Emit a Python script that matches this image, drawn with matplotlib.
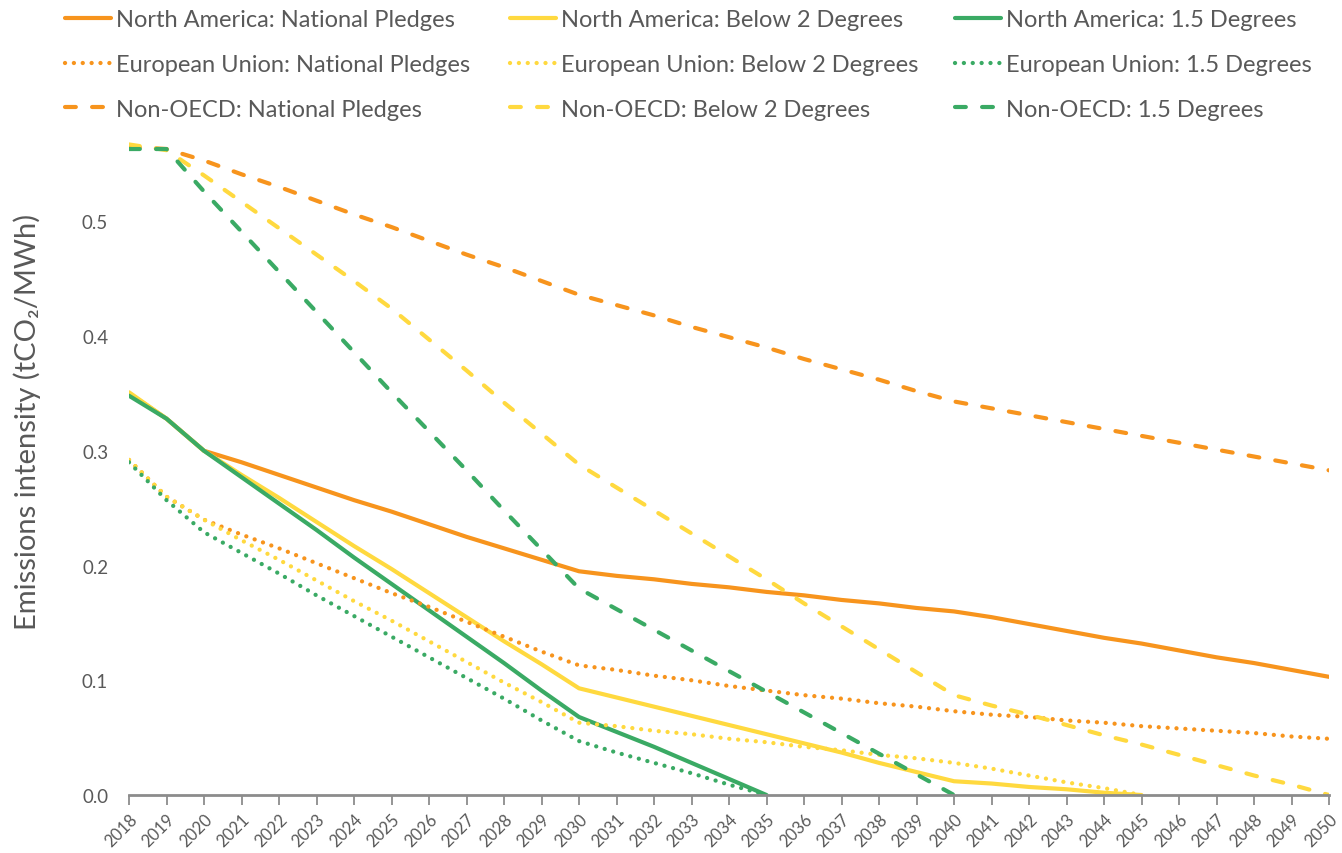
import matplotlib
matplotlib.use("Agg")
import matplotlib.pyplot as plt

plt.rcParams['font.family'] = ['Lato', 'DejaVu Sans']

years = list(range(2018, 2051))

na_pledges = [0.350, 0.328, 0.300, 0.290, 0.279, 0.268, 0.257, 0.247, 0.236, 0.225, 0.215, 0.205, 0.195,
              0.191, 0.188, 0.184, 0.181, 0.177, 0.174, 0.170, 0.167, 0.163, 0.160,
              0.155, 0.149, 0.143, 0.137, 0.132, 0.126, 0.120, 0.115, 0.109, 0.103]
na_below2 = [0.351, 0.328, 0.300, 0.279, 0.259, 0.238, 0.217, 0.197, 0.176, 0.155, 0.134, 0.114, 0.093,
             0.085, 0.077, 0.069, 0.061, 0.053, 0.045, 0.037, 0.028, 0.020, 0.012,
             0.010, 0.007, 0.005, 0.002, 0.0]
na_15 = [0.348, 0.328, 0.300, 0.277, 0.254, 0.231, 0.207, 0.184, 0.161, 0.138, 0.115, 0.091, 0.068,
         0.055, 0.042, 0.028, 0.014, 0.0]

eu_pledges = [0.292, 0.260, 0.240, 0.227, 0.215, 0.202, 0.189, 0.176, 0.164, 0.151, 0.138, 0.125, 0.113,
              0.109, 0.104, 0.100, 0.095, 0.091, 0.087, 0.084, 0.080, 0.077, 0.073,
              0.070, 0.068, 0.065, 0.063, 0.060, 0.058, 0.056, 0.054, 0.051, 0.049]
eu_below2 = [0.292, 0.260, 0.240, 0.222, 0.205, 0.187, 0.169, 0.152, 0.134, 0.116, 0.098, 0.081, 0.063,
             0.060, 0.056, 0.053, 0.049, 0.046, 0.042, 0.039, 0.035, 0.032, 0.028,
             0.023, 0.017, 0.011, 0.006, 0.0]
eu_15 = [0.290, 0.257, 0.229, 0.211, 0.193, 0.174, 0.156, 0.138, 0.120, 0.102, 0.084, 0.065, 0.047,
         0.037, 0.028, 0.019, 0.009, 0.0]

no_pledges = [0.565, 0.563, 0.553, 0.541, 0.530, 0.518, 0.506, 0.495, 0.483, 0.471, 0.460, 0.448, 0.436,
              0.427, 0.418, 0.408, 0.399, 0.390, 0.380, 0.371, 0.362, 0.352, 0.343,
              0.337, 0.331, 0.325, 0.319, 0.313, 0.307, 0.301, 0.295, 0.289, 0.283]
no_below2 = [0.567, 0.562, 0.540, 0.517, 0.494, 0.471, 0.448, 0.424, 0.397, 0.370, 0.342, 0.315, 0.288,
             0.268, 0.248, 0.228, 0.208, 0.188, 0.167, 0.147, 0.127, 0.107, 0.087,
             0.078, 0.070, 0.061, 0.052, 0.044, 0.035, 0.026, 0.017, 0.009, 0.0]
no_15 = [0.563, 0.563, 0.526, 0.491, 0.456, 0.421, 0.386, 0.351, 0.317, 0.283, 0.248, 0.214, 0.180,
         0.162, 0.144, 0.126, 0.108, 0.090, 0.072, 0.054, 0.036, 0.018, 0.0]

ORANGE = '#F7941D'
YELLOW = '#FFD93F'
GREEN = '#3AAA64'
TEXT = '#595959'

series = [
    ("North America: National Pledges", na_pledges, ORANGE, 'solid'),
    ("North America: Below 2 Degrees", na_below2, YELLOW, 'solid'),
    ("North America: 1.5 Degrees", na_15, GREEN, 'solid'),
    ("European Union: National Pledges", eu_pledges, ORANGE, 'dot'),
    ("European Union: Below 2 Degrees", eu_below2, YELLOW, 'dot'),
    ("European Union: 1.5 Degrees", eu_15, GREEN, 'dot'),
    ("Non-OECD: National Pledges", no_pledges, ORANGE, 'dash'),
    ("Non-OECD: Below 2 Degrees", no_below2, YELLOW, 'dash'),
    ("Non-OECD: 1.5 Degrees", no_15, GREEN, 'dash'),
]

fig = plt.figure(figsize=(13.42, 8.54), dpi=100)
ax = fig.add_axes([129/1342, 58/854, 1200/1342, (796-142)/854])

handles = []
for name, vals, col, style in series:
    x = years[:len(vals)]
    if style == 'solid':
        ln, = ax.plot(x, vals, color=col, lw=3, solid_capstyle='round', solid_joinstyle='round', label=name)
    elif style == 'dot':
        ln, = ax.plot(x, vals, color=col, lw=3.1, dash_capstyle='round', label=name)
        ln.set_dashes((0.01, 2.05))
    else:
        ln, = ax.plot(x, vals, color=col, lw=3, dash_capstyle='round', label=name)
        ln.set_dashes((2.6, 3.9))
    handles.append(ln)

ax.set_xlim(2018, 2050)
ax.set_ylim(0, 0.57)
ax.set_xticks(years)
ax.set_xticklabels([str(y) for y in years], rotation=45, ha='right', va='top',
                   rotation_mode='anchor', fontsize=12, color=TEXT)
ax.set_yticks([0.0, 0.1, 0.2, 0.3, 0.4, 0.5])
ax.set_yticklabels(['0.0', '0.1', '0.2', '0.3', '0.4', '0.5'], fontsize=13.5, color=TEXT)
ax.tick_params(axis='y', length=0, pad=15)
ax.tick_params(axis='x', length=7, width=1.3, color='#8c8c8c', direction='out', pad=4)
for s in ['top', 'right', 'left']:
    ax.spines[s].set_visible(False)
ax.spines['bottom'].set_color('#8c8c8c')
ax.spines['bottom'].set_linewidth(2)

fig.text(27/1342, 1 - 422/854, "Emissions intensity (tCO₂/MWh)", rotation=90,
         ha='center', va='center', fontsize=21, color=TEXT)

col_x = [65, 510, 955]
for c in range(3):
    hs = [handles[c], handles[c + 3], handles[c + 6]]
    leg = fig.legend(handles=hs, labels=[h.get_label() for h in hs],
                     loc='upper left', bbox_to_anchor=(col_x[c] / 1342, 1 - 10 / 854),
                     frameon=False, fontsize=17, handlelength=1.95, handletextpad=0.22,
                     labelspacing=1.01, borderpad=0, borderaxespad=0)
    for t in leg.get_texts():
        t.set_color(TEXT)

fig.savefig('out.png', dpi=100, facecolor='white')
